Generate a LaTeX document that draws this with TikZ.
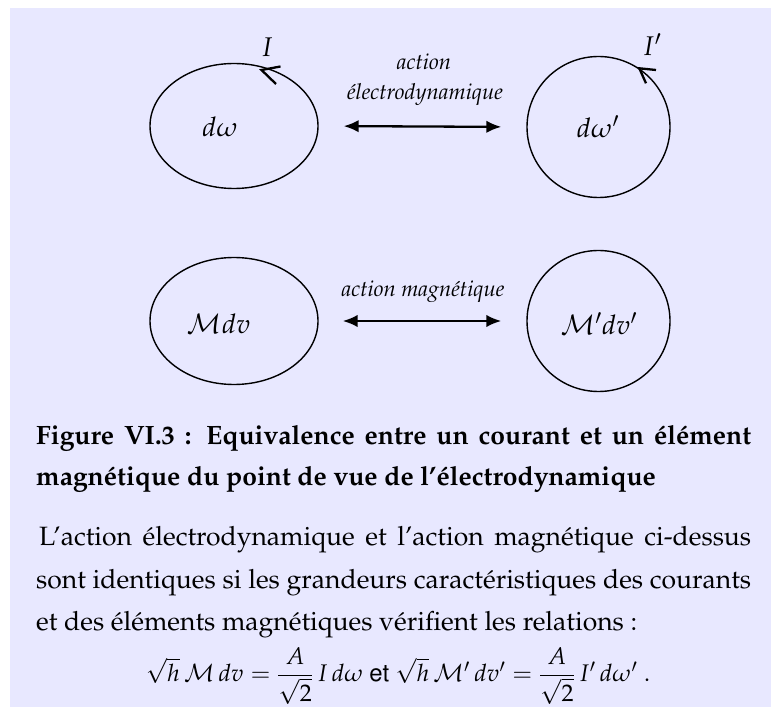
\documentclass[tikz,border=0pt]{standalone}
\usepackage[T1]{fontenc}
\usepackage{mathpazo}
\usepackage[scaled=0.92]{helvet}
\usepackage{amsmath}
\usetikzlibrary{arrows.meta,shapes.geometric}
\definecolor{bg}{RGB}{232,232,255}
\tikzset{
  loopshape/.style={draw, line width=1.4pt, ellipse, inner sep=0pt},
  lbl/.style={inner sep=0pt, font=\fontsize{27}{30}\selectfont},
  curlbl/.style={inner sep=0pt, font=\fontsize{27}{30}\selectfont},
  actlbl/.style={inner sep=0pt, anchor=base, font=\fontsize{22}{25}\selectfont\itshape},
  dblarrow/.style={{Latex[length=15pt,width=12.5pt]}-{Latex[length=15pt,width=12.5pt]}, line width=2.3pt},
  chev/.style={line width=2.3pt},
  bodytxt/.style={inner sep=0pt, anchor=base west, font=\fontsize{26.5}{30}\selectfont},
  captxt/.style={inner sep=0pt, anchor=base west, font=\fontsize{26.5}{30}\selectfont\bfseries}
}
\begin{document}
\begin{tikzpicture}[x=1pt,y=-1pt]
\fill[white] (0,0) rectangle (771,708);
\fill[bg] (10,8) rectangle (771,707);
\useasboundingbox (0,0) rectangle (771,708);
% loops
\node[loopshape, minimum width=168pt, minimum height=125pt] (L1) at (234,126) {};
\node[loopshape, minimum width=143pt, minimum height=141pt] (R1) at (598.5,127) {};
\node[loopshape, minimum width=168pt, minimum height=127pt] (L2) at (234,321) {};
\node[loopshape, minimum width=143pt, minimum height=141pt] (R2) at (598.5,321) {};
% arrows
\draw[dblarrow, shorten <=25pt, shorten >=25pt] (L1.east) -- (R1.west);
\draw[dblarrow, shorten <=24pt, shorten >=25pt] (L2.east) -- (R2.west);
% current direction marks
\draw[chev] (280.5,66.5) -- (261.5,70) -- (276,84);
\draw[chev] (656,70) -- (639.3,68.3) -- (646,83.3);
% labels
\node[curlbl] (I1) at (267,47) {$I$};
\node[curlbl] (I2) at (652,45) {$I'$};
\node[actlbl] (a1) at (424,70) {action};
\node[actlbl] (a2) at (425,100) {électrodynamique};
\node[actlbl] (a3) at (423,297) {action magnétique};
\node[lbl] (t1) at (220,127) {$d\omega$};
\node[lbl] (t2) at (598,127) {$d\omega'$};
\node[lbl] (t3) at (219,324) {$\mathcal{M}dv$};
\node[lbl] (t4) at (599,324) {$\mathcal{M}'dv'$};
% caption
\node[captxt] (c1) at (36,444) {\makebox[715pt][s]{Figure VI.3 : Equivalence entre un courant et un élément}};
\node[captxt] (c2) at (36,485) {magnétique du point de vue de l'électrodynamique};
% body
\node[bodytxt] (b1) at (39,545) {\makebox[712pt][s]{L'action électrodynamique et l'action magnétique ci-dessus}};
\node[bodytxt] (b2) at (36,588) {\makebox[715pt][s]{sont identiques si les grandeurs caractéristiques des courants}};
\node[bodytxt] (b3) at (36,630) {et des éléments magnétiques vérifient les relations :};
\node[bodytxt, anchor=base, font=\fontsize{24}{28}\selectfont] (eq) at (398,681) {$\sqrt{h}\,\mathcal{M}\,dv = \dfrac{A}{\sqrt{2}}\,I\,d\omega$ {\sffamily\fontsize{26}{28}\selectfont et} $\sqrt{h}\,\mathcal{M}'\,dv' = \dfrac{A}{\sqrt{2}}\,I'\,d\omega'$\;.};
\end{tikzpicture}
\end{document}
